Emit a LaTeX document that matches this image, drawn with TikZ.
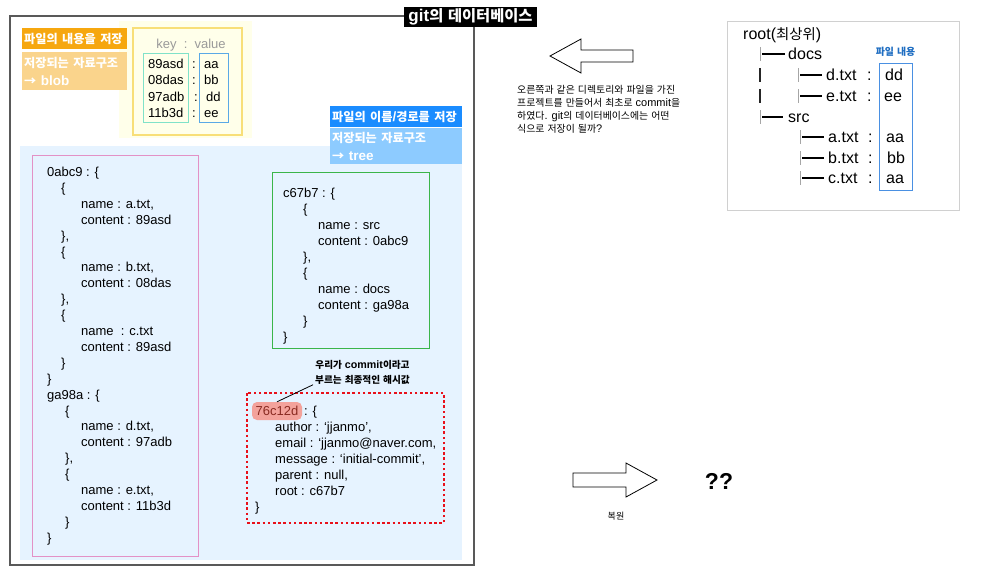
\documentclass[tikz,border=0pt]{standalone}
\usepackage{fontspec}
\setmainfont{Liberation Sans}
\newfontfamily\cjk[Scale=0.9]{Noto Sans CJK KR}
\makeatletter
\newXeTeXintercharclass\krcls
\count@="AC00
\loop\ifnum\count@<"D7A4 \XeTeXcharclass\count@=\krcls \advance\count@ by 1 \repeat
\XeTeXcharclass"2192=\krcls
\XeTeXinterchartoks 0 \krcls {\cjk}
\XeTeXinterchartoks 4095 \krcls {\cjk}
\XeTeXinterchartoks \krcls 0 {\rmfamily}
\XeTeXinterchartoks \krcls 4095 {\rmfamily}
\makeatother
\XeTeXinterchartokenstate=1
\definecolor{orng}{HTML}{F6A70F}
\definecolor{lorng}{HTML}{FAD48C}
\definecolor{ylbg}{HTML}{FFFFEA}
\definecolor{ylbd}{HTML}{F8DF78}
\definecolor{tealbd}{HTML}{80E2C9}
\definecolor{tblue}{HTML}{5AA9E6}
\definecolor{lbbg}{HTML}{E6F3FF}
\definecolor{bblue}{HTML}{1A8CFF}
\definecolor{lblue}{HTML}{8DCBFF}
\definecolor{pinkbd}{HTML}{E391C6}
\definecolor{greenbd}{HTML}{3BB54A}
\definecolor{dotred}{HTML}{E8101A}
\definecolor{hlred}{HTML}{F3A29B}
\definecolor{hltext}{HTML}{8A2B22}
\definecolor{keygray}{HTML}{9A9A9A}
\definecolor{treebd}{HTML}{D0D0D0}
\definecolor{treeblue}{HTML}{4A90E2}
\definecolor{fileblue}{HTML}{1F6EC2}
\tikzset{
  outer/.style={draw=black!65, line width=1.2pt},
  lab/.style={anchor=north west, inner xsep=2pt, inner ysep=0pt, text width=101pt,
    align=left, minimum height=21pt, text=white, font=\bfseries\fontsize{13.5}{15}\selectfont},
  labtwo/.style={lab, minimum height=38pt, font=\bfseries\fontsize{13.5}{18}\selectfont},
  code/.style={font=\fontsize{13}{16}\selectfont, anchor=base west, inner sep=0pt},
  kv/.style={font=\fontsize{13}{16}\selectfont, anchor=base west, inner sep=0pt},
  desc/.style={font=\fontsize{11}{13}\selectfont, anchor=base west, inner sep=0pt},
  treetxt/.style={font=\fontsize{16}{19}\selectfont, anchor=base west, inner sep=0pt},
  tick/.style={draw=black!35, line width=0.8pt},
  dashln/.style={draw=black, line width=1.2pt},
  bar/.style={draw=black!85, line width=1.1pt},
  arrowshape/.style={draw=black, line width=0.8pt, fill=white}
}
\begin{document}
\begin{tikzpicture}[x=1pt,y=-1pt]
\useasboundingbox (0,0) rectangle (1000,571);
\fill[white] (0,0) rectangle (1000,571);
% outer database box
\draw[outer] (10,16) rectangle (474,565);
\fill[ylbg] (119,21) rectangle (252,138);
\fill[lbbg] (20,146) rectangle (462,560);
% key-value table
\draw[ylbd, line width=1.2pt] (133,28) rectangle (242,135);
\draw[tealbd, line width=1pt] (143,53) rectangle (188,122);
\draw[tblue, line width=1pt] (199,53) rectangle (228,122);
\node[kv, anchor=base, text=keygray] (kh) at (191,48.6) {key\ \ :\ \ value};
\foreach \i/\k/\c/\v/\vx in {0/89asd/194/aa/204, 1/08das/194/bb/204, 2/97adb/196/dd/206, 3/11b3d/194/ee/204}{
  \node[kv] (k\i) at (148,68.6+\i*16.2) {\k};
  \node[kv] (c\i) at (\c-2,68.6+\i*16.2) {:};
  \node[kv] (v\i) at (\vx,68.6+\i*16.2) {\v};
}
% labels
\node[lab, fill=orng] (o1) at (22,28) {파일의 내용을 저장};
\node[labtwo, fill=lorng] (o2) at (22,52) {저장되는 자료구조\\→ blob};
\node[lab, fill=bblue, text width=128pt] (b1) at (330,106) {파일의 이름/경로를 저장};
\node[labtwo, fill=lblue, text width=128pt, minimum height=36pt] (b2) at (330,128) {저장되는 자료구조\\→ tree};
% title
\node[fill=black, text=white, font=\bfseries\fontsize{17}{19}\selectfont, minimum width=133pt,
  minimum height=20pt, inner sep=0pt] (title) at (470.5,17) {git의 데이터베이스};
% blob/tree pink box
\draw[pinkbd, line width=1pt] (32,155) rectangle (198,556);
\foreach \i/\x/\t in {0/47/{0abc9 : \{}, 1/61/{\{}, 2/81/{name : a.txt,}, 3/81/{content : 89asd},
  4/61/{\},}, 5/61/{\{}, 6/81/{name : b.txt,}, 7/81/{content : 08das}, 8/61/{\},}, 9/61/{\{},
  10/81/{name\ \ : c.txt}, 11/81/{content : 89asd}, 12/61/{\}}, 13/47/{\}}, 14/47/{ga98a : \{},
  15/65/{\{}, 16/81/{name : d.txt,}, 17/81/{content : 97adb}, 18/65/{\},}, 19/65/{\{},
  20/81/{name : e.txt,}, 21/81/{content : 11b3d}, 22/65/{\}}, 23/47/{\}}}{
  \node[code] (p\i) at (\x,176.5+\i*15.9) {\t};
}
% tree green box
\draw[greenbd, line width=1pt] (272,172) rectangle (429,348);
\foreach \i/\x/\t in {0/283/{c67b7 : \{}, 1/303/{\{}, 2/318/{name : src}, 3/318/{content : 0abc9},
  4/303/{\},}, 5/303/{\{}, 6/318/{name : docs}, 7/318/{content : ga98a}, 8/303/{\}}, 9/283/{\}}}{
  \node[code] (g\i) at (\x,197.5+\i*16) {\t};
}
% commit box
\draw[dotred, line width=2.6pt, dash pattern=on 2.6pt off 2.6pt] (247,393) rectangle (444,523);
\node[fill=hlred, rounded corners=5pt, minimum width=50pt, minimum height=18pt, inner sep=0pt,
  text=hltext, font=\fontsize{13}{16}\selectfont] (hl) at (277,411) {76c12d};
\node[code] (cm0) at (304,415) {: \{};
\foreach \i/\x/\t in {1/275/{author : ‘jjanmo’,}, 2/275/{email : ‘jjanmo@naver.com,},
  3/275/{message : ‘initial-commit’,}, 4/275/{parent : null,}, 5/275/{root : c67b7}, 6/255/{\}}}{
  \node[code] (cm\i) at (\x,415+\i*16) {\t};
}
\node[font=\bfseries\fontsize{10.7}{15}\selectfont, align=center, inner sep=0pt] (ann) at (362.5,372.5)
  {우리가 commit이라고\\부르는 최종적인 해시값};
\draw[black, line width=0.8pt] ([xshift=-2pt]ann.south west) -- (hl.north);
% left arrow
\draw[arrowshape] (633,50) -- (581,50) -- (581,39) -- (550,56) -- (581,73) -- (581,62) -- (633,62) -- cycle;
\foreach \i/\t in {0/{오른쪽과 같은 디렉토리와 파일을 가진}, 1/{프로젝트를 만들어서 최초로 commit을},
  2/{하였다. git의 데이터베이스에는 어떤}, 3/{식으로 저장이 될까?}}{
  \node[desc] (d\i) at (517,93.7+\i*13) {\t};
}
% directory tree box
\draw[treebd, line width=1pt] (727,21) rectangle (959,210);
\node[treetxt] (root) at (743,39.7) {root(최상위)};
\node[font=\bfseries\fontsize{11}{12}\selectfont, text=fileblue, inner sep=0pt] (fl) at (895.5,52) {파일 내용};
\draw[treeblue, line width=1pt] (879,63) rectangle (912,190);
% docs
\draw[tick] (760,47) -- (760,61); \draw[dashln] (762,54) -- (785,54);
\node[treetxt] (docs) at (788,59.7) {docs};
\draw[bar] (760,68) -- (760,82); \draw[bar] (760,89) -- (760,103);
\draw[tick] (798,68) -- (798,82); \draw[dashln] (800,75) -- (822,75);
\node[treetxt] (dtxt) at (826,80.7) {d.txt};
\node[treetxt] (dcol) at (867,80.7) {:};
\node[treetxt] (dval) at (885,80.7) {dd};
\draw[tick] (798,89) -- (798,103); \draw[dashln] (800,96) -- (822,96);
\node[treetxt] (etxt) at (826,101.7) {e.txt};
\node[treetxt] (ecol) at (867,101.7) {:};
\node[treetxt] (eval) at (884,101.7) {ee};
% src
\draw[tick] (760,110) -- (760,124); \draw[dashln] (762,117) -- (783,117);
\node[treetxt] (src) at (788,122.7) {src};
\draw[tick] (800,130) -- (800,144); \draw[dashln] (802,137) -- (824,137);
\node[treetxt] (atxt) at (828,142.7) {a.txt};
\node[treetxt] (acol) at (868,142.7) {:};
\node[treetxt] (aval) at (886,142.7) {aa};
\draw[tick] (800,151) -- (800,165); \draw[dashln] (802,158) -- (824,158);
\node[treetxt] (btxt) at (828,163.7) {b.txt};
\node[treetxt] (bcol) at (868,163.7) {:};
\node[treetxt] (bval) at (887,163.7) {bb};
\draw[tick] (800,171) -- (800,185); \draw[dashln] (802,178) -- (824,178);
\node[treetxt] (ctxt) at (828,183.7) {c.txt};
\node[treetxt] (ccol) at (868,183.7) {:};
\node[treetxt] (cval) at (886,183.7) {aa};
% restore arrow
\draw[arrowshape] (573,473) -- (626,473) -- (626,463) -- (657,480) -- (626,497) -- (626,487) -- (573,487) -- cycle;
\node[font=\fontsize{10}{12}\selectfont, inner sep=0pt] (restore) at (616,516) {복원};
\node[font=\bfseries\fontsize{23}{26}\selectfont, inner sep=0pt] (qq) at (719,481) {??};
\end{tikzpicture}
\end{document}
